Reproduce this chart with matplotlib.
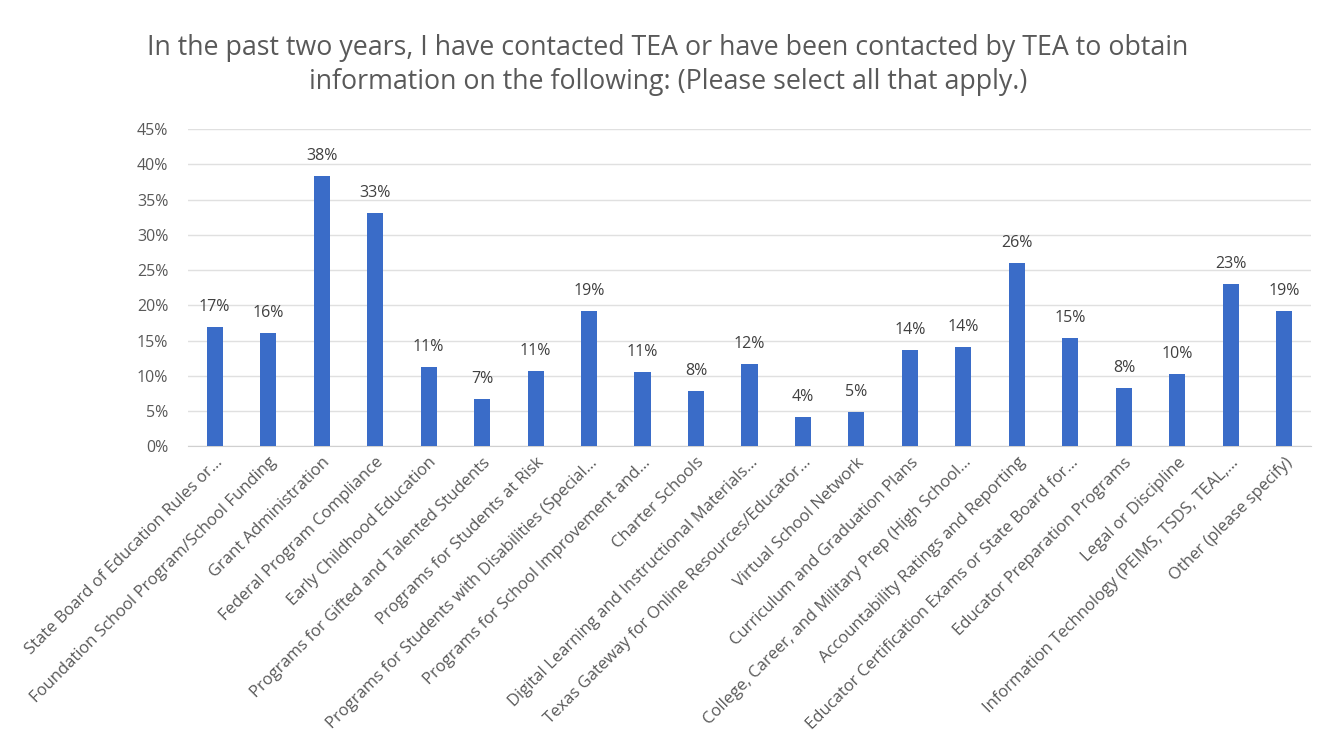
import matplotlib
matplotlib.use("Agg")
import matplotlib.pyplot as plt
import numpy as np
from matplotlib.ticker import FuncFormatter, MultipleLocator

# ============================================================
# 資料
# ============================================================
CATEGORIES = [
    "State Board of Education Rules or…",
    "Foundation School Program/School Funding",
    "Grant Administration",
    "Federal Program Compliance",
    "Early Childhood Education",
    "Programs for Gifted and Talented Students",
    "Programs for Students at Risk",
    "Programs for Students with Disabilities (Special…",
    "Programs for School Improvement and…",
    "Charter Schools",
    "Digital Learning and Instructional Materials…",
    "Texas Gateway for Online Resources/Educator…",
    "Virtual School Network",
    "Curriculum and Graduation Plans",
    "College, Career, and Military Prep (High School…",
    "Accountability Ratings and Reporting",
    "Educator Certification Exams or State Board for…",
    "Educator Preparation Programs",
    "Legal or Discipline",
    "Information Technology (PEIMS, TSDS, TEAL,…",
    "Other (please specify)",
]
PERCENTS = [16.9, 16.1, 38.3, 33.1, 11.2, 6.7, 10.7, 19.2, 10.6, 7.9, 11.7,
            4.1, 4.8, 13.6, 14.1, 26.0, 15.3, 8.2, 10.2, 23.0, 19.2]

TITLE = ("In the past two years, I have contacted TEA or have been contacted by TEA to obtain\n"
         "information on the following: (Please select all that apply.)")

BAR_COLOR = "#3A6CC8"
TEXT_GRAY = "#595959"
GRID_GRAY = "#E0E0E0"

plt.rcParams["font.family"] = ["Open Sans", "DejaVu Sans"]

fig = plt.figure(figsize=(13.23, 7.55), dpi=100)
ax = fig.add_axes([0.142, 0.409, 0.849, 0.420])

x = np.arange(len(CATEGORIES))
ax.bar(x, PERCENTS, width=0.3, color=BAR_COLOR, zorder=3)

for xi, v in zip(x, PERCENTS):
    ax.text(xi, v + 1.7, f"{round(v):.0f}%", ha="center", va="bottom",
            fontsize=11.5, color="#404040")

ax.set_xlim(-0.5, len(CATEGORIES) - 0.5)
ax.set_ylim(0, 45)
ax.yaxis.set_major_locator(MultipleLocator(5))
ax.yaxis.set_major_formatter(FuncFormatter(lambda v, _: f"{v:.0f}%"))
ax.grid(axis="y", color=GRID_GRAY, linewidth=1, zorder=0)

ax.set_xticks(x)
ax.set_xticklabels(CATEGORIES, rotation=45, ha="right", rotation_mode="anchor",
                   fontsize=12, color=TEXT_GRAY)
ax.tick_params(axis="y", labelsize=11.5, labelcolor=TEXT_GRAY, length=0, pad=14)
ax.tick_params(axis="x", length=0, pad=6)

for side in ("top", "right", "left"):
    ax.spines[side].set_visible(False)
ax.spines["bottom"].set_color("#D0D0D0")

fig.text(0.505, 0.955, TITLE, ha="center", va="top", fontsize=19.3,
         color=TEXT_GRAY, linespacing=1.3)

fig.savefig("out.png", dpi=100)
